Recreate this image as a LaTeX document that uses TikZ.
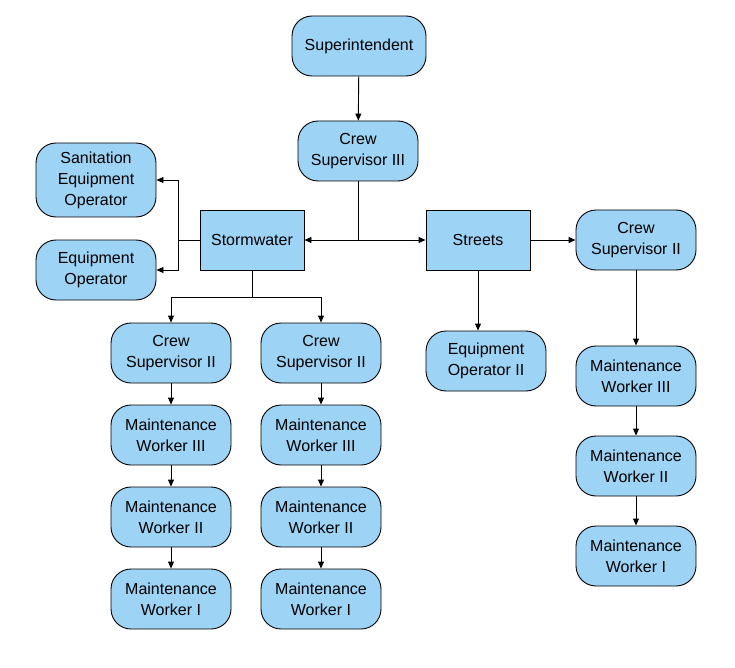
\documentclass[tikz,border=0pt]{standalone}
\usepackage{fontspec}
\setmainfont{Liberation Sans}
\usetikzlibrary{arrows.meta}
\definecolor{boxblue}{HTML}{9DD3F5}
\begin{document}
\begin{tikzpicture}[x=1pt,y=-1pt,
  base/.style={draw=black,fill=boxblue,line width=0.9pt,align=center,
    font=\fontsize{16}{21}\selectfont,inner sep=0pt},
  rbox/.style={base,rounded corners=20pt,minimum width=#1,minimum height=60pt},
  rbox/.default=120pt,
  sbox/.style={base,minimum width=104pt,minimum height=60pt},
  arr/.style={-{Triangle[length=7pt,width=6pt]},line width=0.9pt},
  ln/.style={line width=0.9pt}]
\useasboundingbox (0,0) rectangle (735,668);
\node[rbox=134pt] (sup) at (359,46) {Superintendent};
\node[rbox] (cs3) at (358,151) {Crew\\Supervisor III};
\node[rbox,minimum height=74pt] (san) at (96,180) {Sanitation\\Equipment\\Operator};
\node[rbox] (eo) at (96,270) {Equipment\\Operator};
\node[sbox] (sw) at (252,240) {Stormwater};
\node[sbox] (st) at (478,240) {Streets};
\node[rbox] (cs2r) at (636,240) {Crew\\Supervisor II};
\node[rbox] (eo2) at (486,361) {Equipment\\Operator II};
\node[rbox] (r3) at (636,376) {Maintenance\\Worker III};
\node[rbox] (r2) at (636,466) {Maintenance\\Worker II};
\node[rbox] (r1) at (636,556) {Maintenance\\Worker I};
\node[rbox] (a0) at (171,353) {Crew\\Supervisor II};
\node[rbox] (a3) at (171,435) {Maintenance\\Worker III};
\node[rbox] (a2) at (171,517) {Maintenance\\Worker II};
\node[rbox] (a1) at (171,599) {Maintenance\\Worker I};
\node[rbox] (b0) at (321,353) {Crew\\Supervisor II};
\node[rbox] (b3) at (321,435) {Maintenance\\Worker III};
\node[rbox] (b2) at (321,517) {Maintenance\\Worker II};
\node[rbox] (b1) at (321,599) {Maintenance\\Worker I};
\coordinate (j1) at (358,240);
\coordinate (j2) at (178,240);
\coordinate (j3) at (252,297);
\draw[arr] (sup) -- (cs3);
\draw[ln] (cs3) -- (j1);
\draw[arr] (j1) -- (sw.east);
\draw[arr] (j1) -- (st.west);
\draw[ln] (sw.west) -- (j2);
\draw[arr] (j2) |- (san.east);
\draw[arr] (j2) |- (eo.east);
\draw[ln] (sw.south) -- (j3);
\draw[arr] (j3) -| (a0.north);
\draw[arr] (j3) -| (b0.north);
\draw[arr] (st.south-|eo2.north) ++(-8,0) -- ([xshift=-8pt]eo2.north);
\draw[arr] (st) -- (cs2r);
\draw[arr] (cs2r) -- (r3);
\draw[arr] (r3) -- (r2);
\draw[arr] (r2) -- (r1);
\draw[arr] (a0) -- (a3);
\draw[arr] (a3) -- (a2);
\draw[arr] (a2) -- (a1);
\draw[arr] (b0) -- (b3);
\draw[arr] (b3) -- (b2);
\draw[arr] (b2) -- (b1);
\end{tikzpicture}
\end{document}
